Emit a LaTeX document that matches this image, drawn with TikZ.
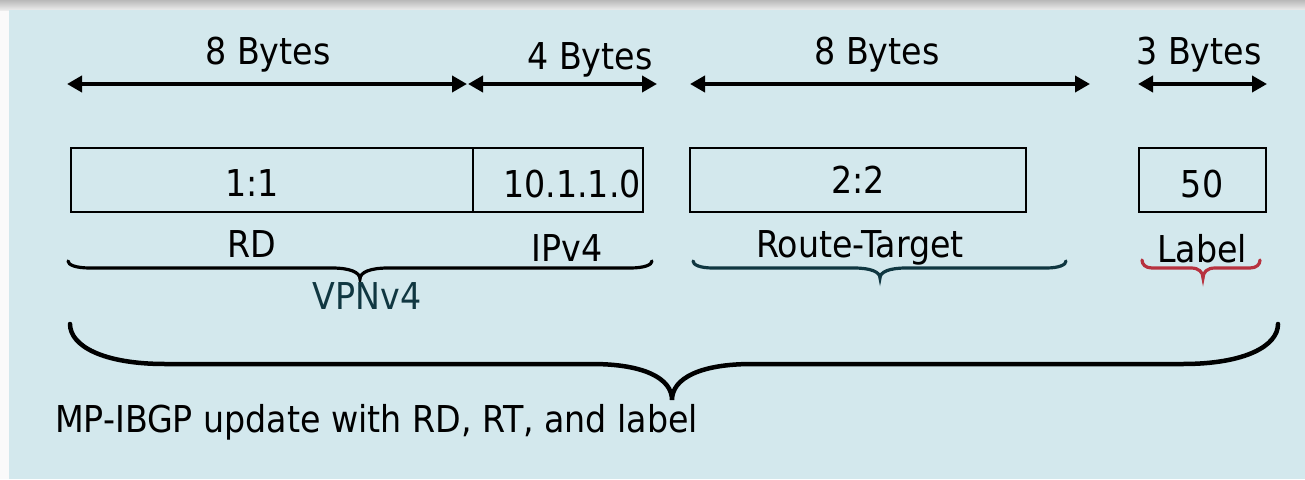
\documentclass[tikz,border=0pt]{standalone}
\usepackage{fontspec}
\setmainfont{DejaVu Sans Condensed}
\usetikzlibrary{arrows.meta}

\definecolor{panelbg}{HTML}{D3E8ED}
\definecolor{tealdark}{HTML}{103741}
\definecolor{bracered}{HTML}{B7323F}

% horizontal curly brace opening upward:
% #2 left x, #3 right x, #4 tip x, #5 end y, #6 bar y, #7 tip y, #8 end curl, #9 tip curl
\newcommand\hbrace[9][]{%
  \draw[#1] (#2,#5) .. controls (#2,{#6*0.55+#5*0.45}) and ({#2+#8*0.35},#6) .. ({#2+#8},#6)
    -- ({#4-#9},#6) .. controls ({#4-#9*0.35},#6) and (#4,{#6*0.6+#7*0.4}) .. (#4,#7)
    .. controls (#4,{#6*0.6+#7*0.4}) and ({#4+#9*0.35},#6) .. ({#4+#9},#6)
    -- ({#3-#8},#6) .. controls ({#3-#8*0.35},#6) and (#3,{#6*0.55+#5*0.45}) .. (#3,#5);}

\begin{document}
\begin{tikzpicture}[x=1pt,y=-1pt,
  txt/.style={font=\fontsize{37}{40}\selectfont, anchor=base, inner sep=0pt},
  dim/.style={line width=4pt, {Triangle[length=15pt,width=16pt]}-{Triangle[length=15pt,width=16pt]}},
  field/.style={draw, line width=1.6pt},
  smallbrace/.style={line width=3.2pt, line cap=round},
  bigbrace/.style={line width=4.5pt, line cap=round}]

\useasboundingbox (0,0) rectangle (1305,479);
% page frame: pale margin, grey title band, blue panel
\fill[gray!4] (0,0) rectangle (1305,479);
\shade[top color=gray!55, bottom color=gray!15] (0,0) rectangle (1305,10);
\fill[panelbg] (9,10) rectangle (1305,479);

% byte-width dimension arrows
\coordinate (a1l) at (67,84);   \coordinate (a1r) at (467,84);
\coordinate (a2l) at (468,84);  \coordinate (a2r) at (657,84);
\coordinate (a3l) at (690,84);  \coordinate (a3r) at (1090,84);
\coordinate (a4l) at (1138,84); \coordinate (a4r) at (1267,84);
\draw[dim] (a1l) -- (a1r);
\draw[dim] (a2l) -- (a2r);
\draw[dim] (a3l) -- (a3r);
\draw[dim] (a4l) -- (a4r);

\node[txt] (b1) at (268,64) {8 Bytes};
\node[txt] (b2) at (590,69) {4 Bytes};
\node[txt] (b3) at (877,64) {8 Bytes};
\node[txt] (b4) at (1199,64) {3 Bytes};

% update fields
\draw[field] (71,148) rectangle (473,212);
\draw[field] (473,148) rectangle (643,212);
\draw[field] (690,148) rectangle (1026,212);
\draw[field] (1139,148) rectangle (1266,212);

\node[txt] (rdv) at (252,196) {1:1};
\node[txt] (ipv) at (572,197) {10.1.1.0};
\node[txt] (rtv) at (858,193) {2:2};
\node[txt] (lbv) at (1202,197) {50};

% field names
\node[txt] (rd) at (252,257) {RD};
\node[txt] (ip) at (567,261) {IPv4};
\node[txt] (rt) at (860,257) {Route-Target};
\node[txt] (lb) at (1202,262) {Label};

% group braces
\hbrace[smallbrace, black]{68}{652}{360}{261}{268}{279}{22}{28}
\hbrace[smallbrace, tealdark]{693}{1066}{880}{261}{268}{278}{20}{26}
\hbrace[smallbrace, bracered]{1142}{1260}{1203}{260}{268}{278}{10}{12}

\node[txt, text=tealdark] (vpn) at (367,309) {VPNv4};

% whole update
\hbrace[bigbrace, black]{70}{1278}{672}{324}{364}{400}{95}{80}

\node[txt, anchor=base west] (mp) at (55,432) {MP-IBGP update with RD, RT, and label};
\end{tikzpicture}
\end{document}
